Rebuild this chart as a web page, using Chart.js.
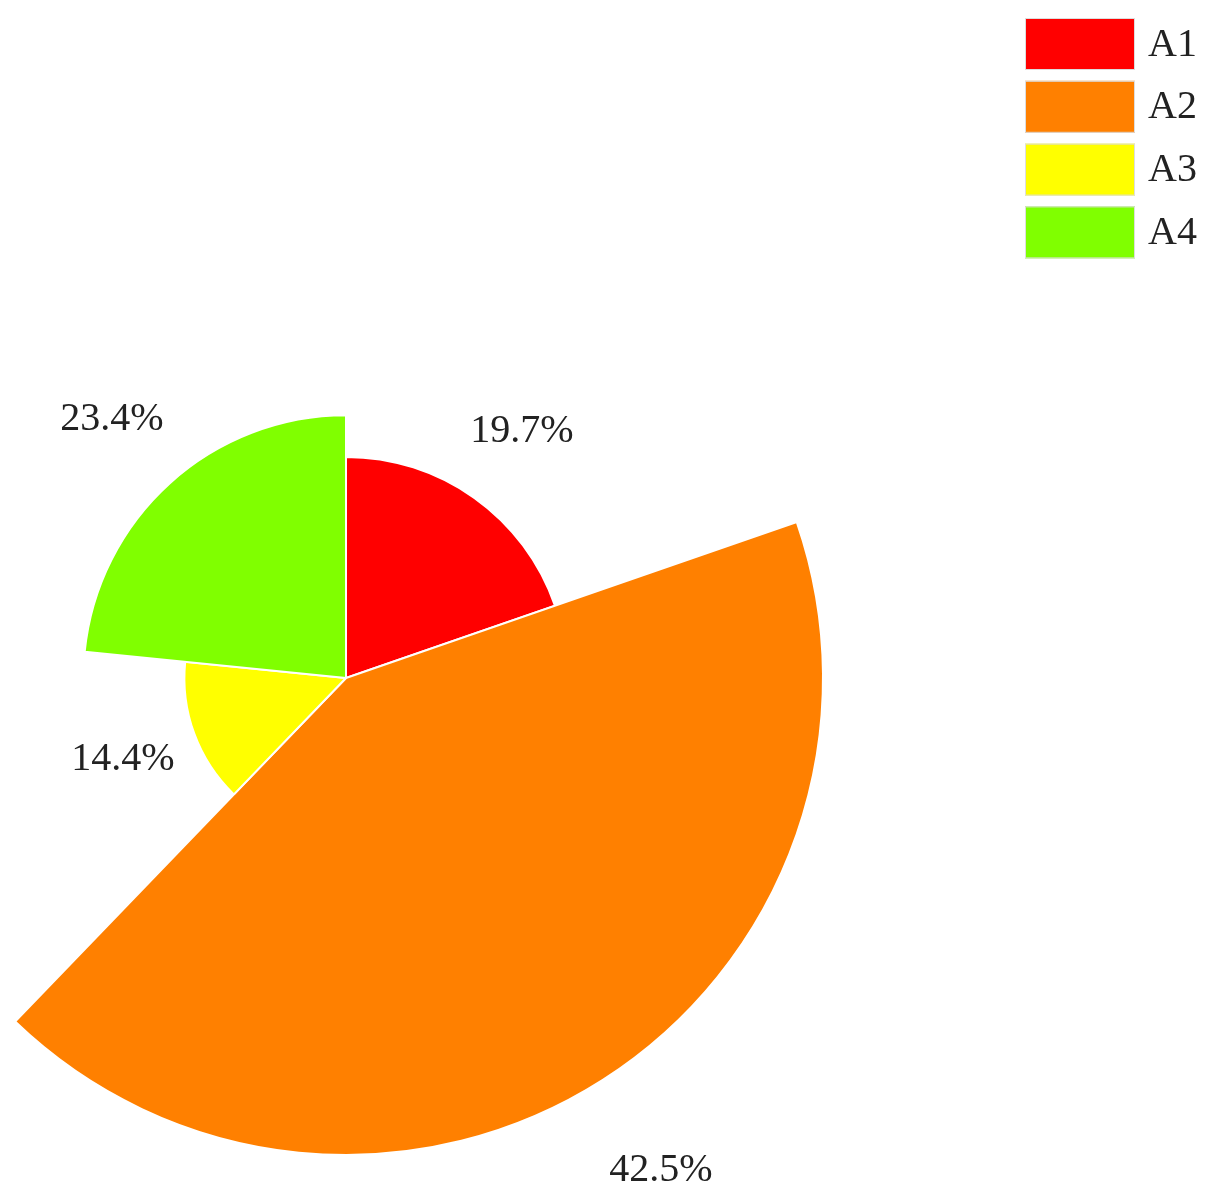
<!DOCTYPE html>
<html>
<head>
<meta charset="utf-8">
<script src="https://cdn.jsdelivr.net/npm/chart.js@4"></script>
<style>
  html, body { margin: 0; padding: 0; background: #fff; }
  #wrap { width: 1218px; height: 1181px; position: relative; }
</style>
</head>
<body>
<div id="wrap"><canvas id="pieChart" width="1218" height="1181"></canvas></div>
<script>
const labels = ['A1', 'A2', 'A3', 'A4'];
const values = [19.7, 42.5, 14.4, 23.4];
const colors = ['#ff0000', '#ff8000', '#ffff00', '#80ff00'];

const maxRadius = 477;
const fontFamily = '"Liberation Serif", "DejaVu Serif", serif';

// each slice gets a radius proportional to its value
const radiusPlugin = {
    id: 'valueRadius',
    afterDatasetsUpdate(chart) {
        const meta = chart.getDatasetMeta(0);
        const max = Math.max(...values);
        meta.data.forEach((arc, i) => {
            arc.outerRadius = maxRadius * values[i] / max;
        });
    }
};

const labelPlugin = {
    id: 'pctLabels',
    afterDraw(chart) {
        const ctx = chart.ctx;
        const meta = chart.getDatasetMeta(0);
        ctx.save();
        ctx.font = '40px ' + fontFamily;
        ctx.fillStyle = '#222';
        ctx.textAlign = 'center';
        ctx.textBaseline = 'middle';
        meta.data.forEach((arc, i) => {
            const mid = (arc.startAngle + arc.endAngle) / 2;
            const r = arc.outerRadius * 1.1 + 60;
            ctx.fillText(values[i].toFixed(1) + '%', arc.x + Math.cos(mid) * r, arc.y + Math.sin(mid) * r);
        });

        // legend, top right
        ctx.textAlign = 'left';
        labels.forEach((lab, i) => {
            const y = 18 + i * 62.8;
            ctx.fillStyle = colors[i];
            ctx.fillRect(1025, y, 110, 52);
            ctx.strokeStyle = '#ddd';
            ctx.lineWidth = 1;
            ctx.strokeRect(1025.5, y + 0.5, 109, 51);
            ctx.fillStyle = '#222';
            ctx.fillText(lab, 1148, y + 27);
        });
        ctx.restore();
    }
};

new Chart(document.getElementById('pieChart'), {
    type: 'pie',
    data: {
        labels: labels,
        datasets: [{
            data: values,
            backgroundColor: colors,
            borderColor: '#fff',
            borderWidth: 2,
            radius: maxRadius
        }]
    },
    options: {
        responsive: false,
        animation: false,
        layout: { padding: { left: 0, right: 526, top: 175, bottom: 0 } },
        plugins: {
            legend: { display: false },
            tooltip: { enabled: false }
        }
    },
    plugins: [radiusPlugin, labelPlugin]
});
</script>
</body>
</html>
